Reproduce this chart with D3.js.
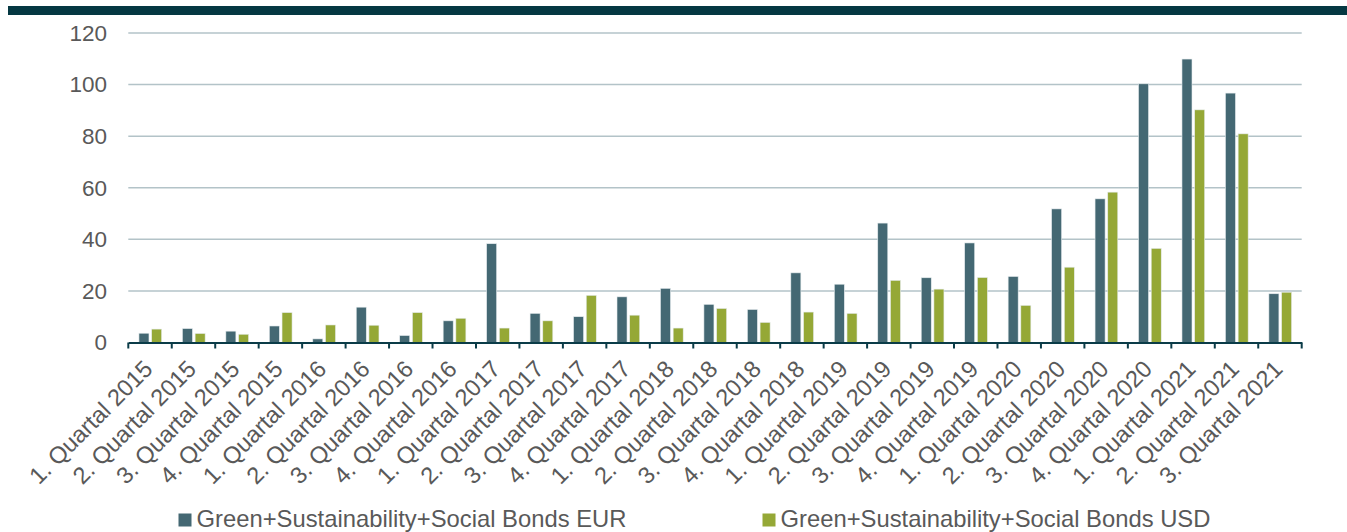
<!DOCTYPE html>
<html>
<head>
<meta charset="utf-8">
<script src="https://cdn.jsdelivr.net/npm/d3@7"></script>
<style>
  html, body { margin: 0; padding: 0; background: #ffffff; }
  svg { display: block; }
  text { font-family: "Liberation Sans", Arial, sans-serif; fill: #595959; }
</style>
</head>
<body>
<svg id="chart" width="1347" height="532"></svg>
<script>
const categories = [
  "1. Quartal 2015","2. Quartal 2015","3. Quartal 2015","4. Quartal 2015",
  "1. Quartal 2016","2. Quartal 2016","3. Quartal 2016","4. Quartal 2016",
  "1. Quartal 2017","2. Quartal 2017","3. Quartal 2017","4. Quartal 2017",
  "1. Quartal 2018","2. Quartal 2018","3. Quartal 2018","4. Quartal 2018",
  "1. Quartal 2019","2. Quartal 2019","3. Quartal 2019","4. Quartal 2019",
  "1. Quartal 2020","2. Quartal 2020","3. Quartal 2020","4. Quartal 2020",
  "1. Quartal 2021","2. Quartal 2021","3. Quartal 2021"
];
const eurValues = [3.6, 5.4, 4.4, 6.4, 1.4, 13.7, 2.7, 8.4, 38.3, 11.3, 10.0, 17.7, 21.0, 14.8, 12.8, 27.0, 22.6, 46.3, 25.1, 38.6, 25.6, 51.8, 55.7, 100.3, 109.9, 96.7, 18.9];
const usdValues = [5.2, 3.5, 3.2, 11.6, 6.8, 6.7, 11.6, 9.4, 5.6, 8.4, 18.3, 10.6, 5.6, 13.2, 7.8, 11.8, 11.3, 24.1, 20.7, 25.2, 14.4, 29.2, 58.3, 36.5, 90.2, 80.9, 19.5];
const seriesNames = ["Green+Sustainability+Social Bonds EUR", "Green+Sustainability+Social Bonds USD"];
const seriesColors = ["#446873", "#95a836"];
const yTicks = [0, 20, 40, 60, 80, 100, 120];

const svg = d3.select("#chart");
const mLeft = 128.3, mRight = 1301.7, mTop = 33, mBottom = 342.5;

// top banner
svg.append("rect").attr("x", 8).attr("y", 6).attr("width", 1339).attr("height", 9).attr("fill", "#053842");

const x = d3.scaleBand().domain(categories).range([mLeft, mRight]).paddingInner(0).paddingOuter(0);
const bw = x.bandwidth();
const x1 = d3.scaleBand().domain([0, 1]).range([bw * 0.245, bw * 0.768]).paddingInner(0.21).paddingOuter(0);
const y = d3.scaleLinear().domain([0, 120]).range([mBottom, mTop]);

// gridlines
svg.append("g").selectAll("line").data(yTicks.filter(d => d > 0)).join("line")
  .attr("x1", mLeft).attr("x2", mRight)
  .attr("y1", d => y(d)).attr("y2", d => y(d))
  .attr("stroke", "#b3c3c8").attr("stroke-width", 1.5);

// y labels
svg.append("g").selectAll("text").data(yTicks).join("text")
  .attr("x", 107).attr("y", d => y(d)).attr("dy", "0.35em")
  .attr("text-anchor", "end").attr("font-size", 22.5)
  .text(d => d);

// bars
const series = [eurValues, usdValues];
series.forEach((vals, si) => {
  svg.append("g").selectAll("rect").data(vals).join("rect")
    .attr("x", (d, i) => x(categories[i]) + x1(si))
    .attr("width", x1.bandwidth())
    .attr("y", d => y(d))
    .attr("height", d => y(0) - y(d))
    .attr("fill", seriesColors[si])
    .attr("stroke", "#e6ecee").attr("stroke-width", 0.6);
});

// x axis line and ticks
const xAxis = d3.axisBottom(x).tickSize(0).tickFormat("");
const ax = svg.append("g").attr("transform", `translate(0,${mBottom})`).call(xAxis);
ax.select(".domain").attr("stroke", "#0b3c48").attr("stroke-width", 2.2);
const tickPos = categories.map(c => x(c)).concat([mRight]);
svg.append("g").selectAll("line").data(tickPos).join("line")
  .attr("x1", d => d).attr("x2", d => d)
  .attr("y1", mBottom).attr("y2", mBottom + 6)
  .attr("stroke", "#0b3c48").attr("stroke-width", 2);

// x labels rotated
svg.append("g").selectAll("text").data(categories).join("text")
  .attr("text-anchor", "end").attr("font-size", 23.6)
  .attr("transform", d => `translate(${x(d) + bw / 2 + 4},${mBottom + 28}) rotate(-45)`)
  .text(d => d);

// legend
const legendX = [178.5, 762.5];
seriesNames.forEach((name, i) => {
  svg.append("rect").attr("x", legendX[i]).attr("y", 513.5).attr("width", 13).attr("height", 13)
    .attr("fill", seriesColors[i]);
  svg.append("text").attr("x", legendX[i] + 18).attr("y", 527).attr("font-size", 23.8).text(name);
});
</script>
</body>
</html>
